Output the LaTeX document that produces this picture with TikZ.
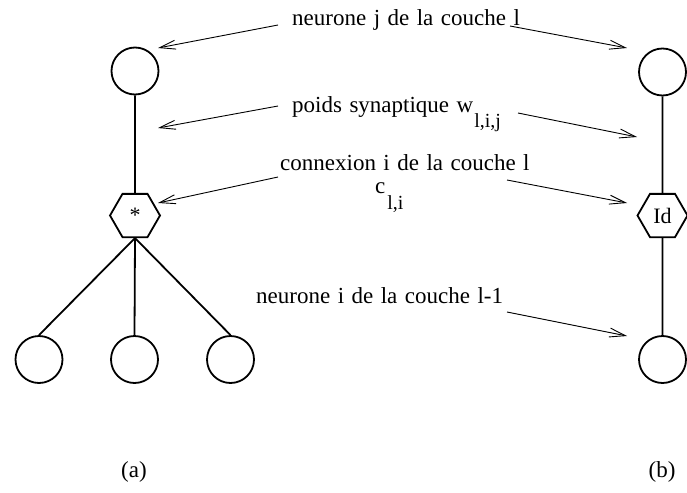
\documentclass[tikz,border=0pt]{standalone}
\usepackage{fontspec}
\setmainfont{Liberation Serif}[WordSpace=1.3]
\usetikzlibrary{arrows.meta,shapes.geometric}
\begin{document}
\begin{tikzpicture}[x=1pt,y=-1pt,
  neuron/.style={circle,draw,line width=1.8pt,minimum size=47pt,inner sep=0pt},
  hexa/.style={regular polygon,regular polygon sides=6,draw,line width=1.8pt,minimum size=50pt,inner sep=0pt,font=\fontsize{22}{22}\selectfont},
  link/.style={line width=1.8pt},
  pointer/.style={line width=0.9pt,-{Straight Barb[length=16pt,width=9pt]}},
  lbl/.style={anchor=base west,inner sep=0pt,font=\fontsize{23}{23}\selectfont}]
\useasboundingbox (0,0) rectangle (687,492);
% left network (a)
\node[neuron] (c1) at (135,71) {};
\node[hexa] (h1) at (135,215.5) {\raisebox{-5pt}{*}};
\node[neuron] (b1) at (39,359.5) {};
\node[neuron] (b2) at (134.5,359.5) {};
\node[neuron] (b3) at (230.5,359.5) {};
\draw[link] (c1) -- (h1);
\draw[link] (h1.south) -- (b1.north);
\draw[link] (h1.south) -- (b2.north);
\draw[link] (h1.south) -- (b3.north);
% right network (b)
\node[neuron] (c2) at (662.5,72) {};
\node[hexa] (h2) at (662.5,215.5) {Id};
\node[neuron] (b4) at (662.5,359.5) {};
\draw[link] (c2) -- (h2);
\draw[link] (h2) -- (b4);
% labels
\node[lbl] (tj) at (292,26) {neurone j de la couche l};
\node[lbl] (tw) at (292,113) {poids synaptique w\hspace{1pt}\raisebox{-15pt}{\fontsize{20}{20}\selectfont l,i,j}};
\node[lbl] (tc) at (280,170) {connexion i de la couche l};
\node[lbl] (tcl) at (375,193) {c\hspace{2pt}\raisebox{-16pt}{\fontsize{20}{20}\selectfont l,i}};
\node[lbl] (ti) at (256,303) {neurone i de la couche l-1};
\node[lbl,anchor=base] (la) at (134,477) {(a)};
\node[lbl,anchor=base] (lb) at (662,477) {(b)};
% pointer ends
\coordinate (s1) at (278,25);  \coordinate (e1) at (158,48);
\coordinate (s2) at (510,26);  \coordinate (e2) at (627,48);
\coordinate (s3) at (278,106); \coordinate (e3) at (158,128);
\coordinate (s4) at (518,113); \coordinate (e4) at (637,137);
\coordinate (s5) at (278,177); \coordinate (e5) at (158,203);
\coordinate (s6) at (507,180); \coordinate (e6) at (627,203);
\coordinate (s7) at (507,312); \coordinate (e7) at (627,336);
\draw[pointer] (s1) -- (e1);
\draw[pointer] (s2) -- (e2);
\draw[pointer] (s3) -- (e3);
\draw[pointer] (s4) -- (e4);
\draw[pointer] (s5) -- (e5);
\draw[pointer] (s6) -- (e6);
\draw[pointer] (s7) -- (e7);
\end{tikzpicture}
\end{document}
